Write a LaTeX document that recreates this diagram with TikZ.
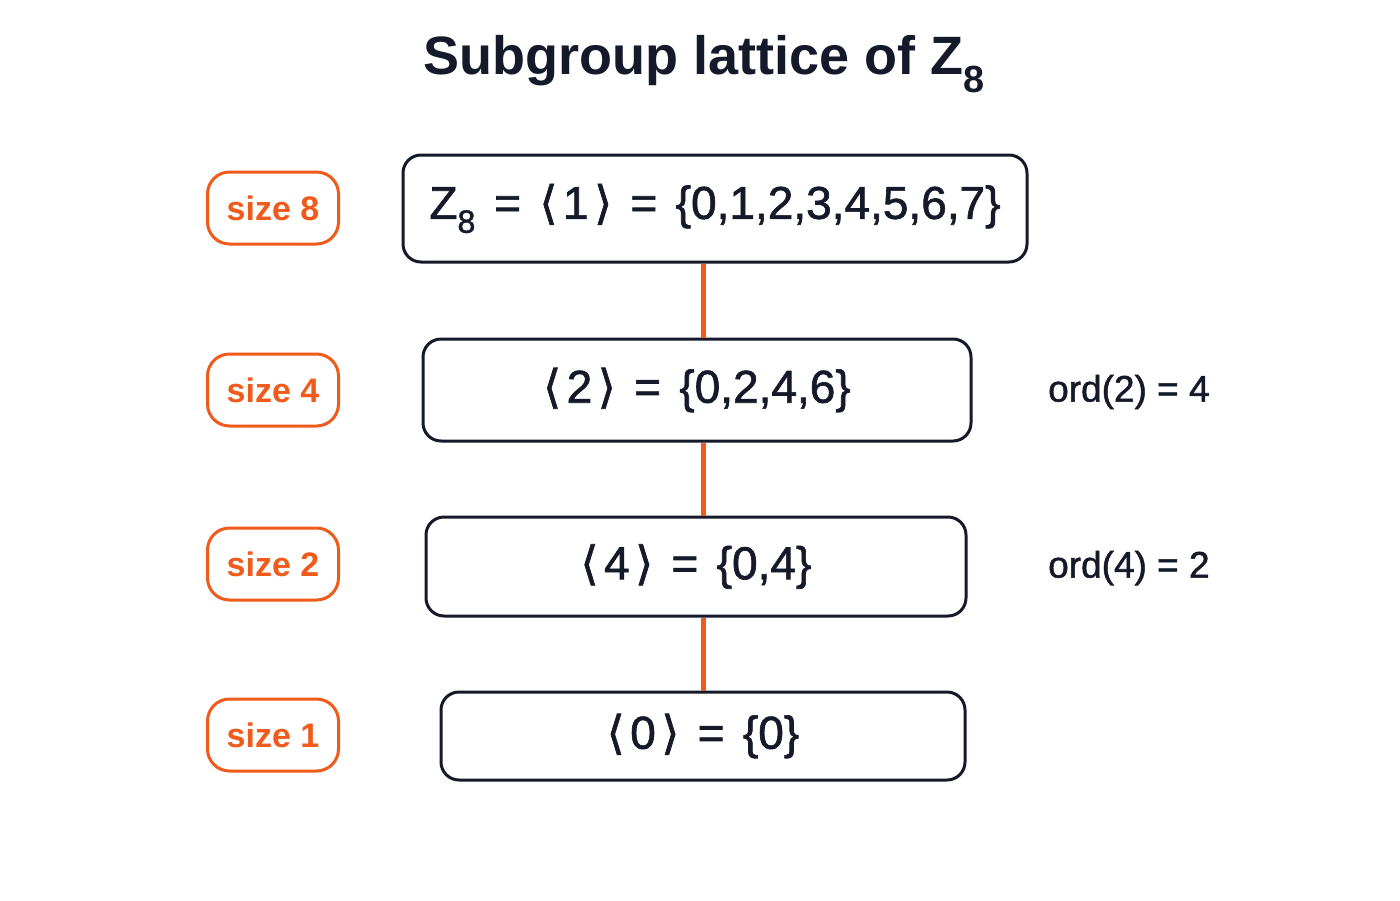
\documentclass[tikz,border=0pt]{standalone}
\usepackage{fontspec}
\setmainfont{Liberation Sans}
\newfontfamily\medfont[FakeBold=1.4]{Liberation Sans}
\newfontfamily\dv[FakeBold=1.4]{DejaVu Sans}
\definecolor{ink}{HTML}{151A2A}
\definecolor{accent}{HTML}{F05A1A}
\newcommand{\lan}{{\dv\symbol{"27E8}}\kern0.12em}
\newcommand{\ran}{\kern0.12em{\dv\symbol{"27E9}}}
\newcommand{\eqs}{\hspace{0.4em}=\hspace{0.4em}}
\begin{document}
\begin{tikzpicture}[x=1pt,y=-1pt,
  grp/.style={draw=ink,line width=3pt,rounded corners=18pt,text=ink,
    font=\fontsize{46}{50}\medfont,inner sep=0pt,anchor=center},
  sizebox/.style={draw=accent,line width=3pt,rounded corners=22pt,text=accent,
    font=\fontsize{34}{38}\selectfont\bfseries,minimum width=131pt,minimum height=72pt,inner sep=0pt},
  ordlbl/.style={text=ink,font=\fontsize{37}{40}\medfont,anchor=west,inner sep=0pt},
  link/.style={draw=accent,line width=5pt}]
\useasboundingbox[fill=white] (0,0) rectangle (1400,900);
\node[text=ink,font=\fontsize{54}{58}\selectfont\bfseries] (title) at (704,64) {Subgroup lattice of Z\textsubscript{8}};
\node[grp,minimum width=624pt,minimum height=107pt] (g8) at (715,208.5) {Z\textsubscript{8}\eqs\lan1\ran\eqs\{0,1,2,3,4,5,6,7\}};
\node[grp,minimum width=548pt,minimum height=102pt] (g4) at (697,390) {\lan2\ran\eqs\{0,2,4,6\}};
\node[grp,minimum width=540pt,minimum height=99pt] (g2) at (696,566.5) {\lan4\ran\eqs\{0,4\}};
\node[grp,minimum width=524pt,minimum height=88pt] (g1) at (703,736) {\lan0\ran\eqs\{0\}};
\draw[link] (g8.south -| 703,0) -- (g4.north -| 703,0);
\draw[link] (g4.south -| 703,0) -- (g2.north -| 703,0);
\draw[link] (g2.south -| 703,0) -- (g1.north -| 703,0);
\node[sizebox] (s8) at (273,208) {size 8};
\node[sizebox] (s4) at (273,390) {size 4};
\node[sizebox] (s2) at (273,564) {size 2};
\node[sizebox] (s1) at (273,735) {size 1};
\node[ordlbl] (o2) at (1048,392) {ord(2) = 4};
\node[ordlbl] (o4) at (1048,568) {ord(4) = 2};
\end{tikzpicture}
\end{document}
